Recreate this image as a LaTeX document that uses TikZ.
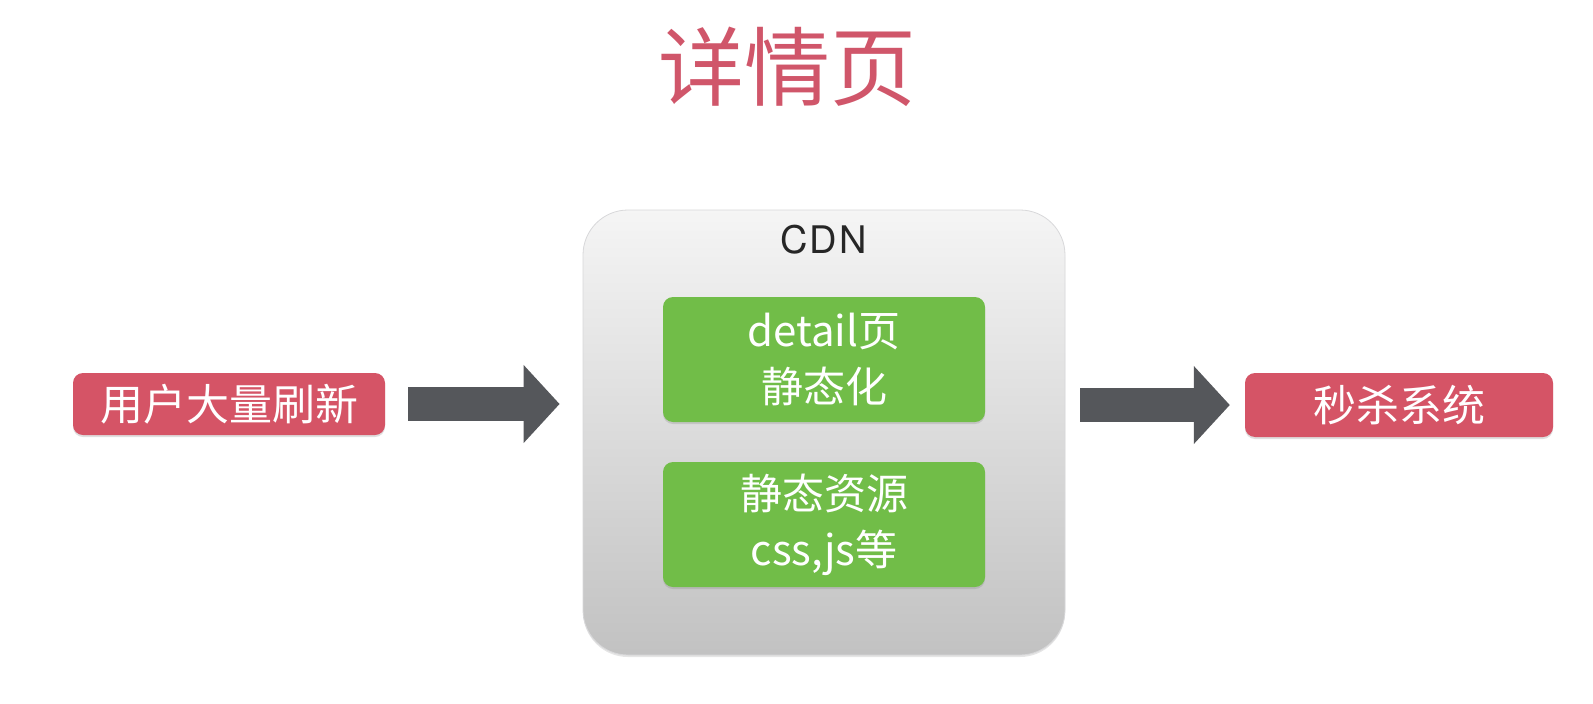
\documentclass[tikz,border=0pt]{standalone}
\usepackage{fontspec}
\setmainfont{Noto Sans CJK SC}
\newfontfamily\cdnfont{TeX Gyre Heros}
\usetikzlibrary{arrows.meta,shadows}
\definecolor{cred}{HTML}{D55466}
\definecolor{ctitle}{HTML}{D0566A}
\definecolor{cgreen}{HTML}{71BD48}
\definecolor{carrow}{HTML}{55575B}
\definecolor{cborder}{HTML}{D8D8DA}
\tikzset{
  redbox/.style={draw=none, fill=cred, rounded corners=10pt, inner sep=0pt,
    text=white, font=\fontsize{43}{50}\selectfont,
    drop shadow={opacity=0.25, shadow xshift=0pt, shadow yshift=-2pt}},
  greenbox/.style={draw=none, fill=cgreen, rounded corners=10pt, inner sep=0pt,
    minimum width=322pt, minimum height=125pt, align=center,
    text=white, font=\fontsize{42}{56}\selectfont,
    drop shadow={opacity=0.25, shadow xshift=0pt, shadow yshift=-2pt}},
  cdnbox/.style={draw=cborder, line width=0.8pt, rounded corners=45pt,
    top color=white!96!black, bottom color=black!24!white, inner sep=0pt,
    minimum width=482pt, minimum height=445pt,
    drop shadow={opacity=0.2, shadow xshift=0pt, shadow yshift=-2pt}},
  fatarrow/.style={draw=carrow, line width=34pt,
    -{Triangle[length=36pt, width=76pt]}},
}
\begin{document}
\begin{tikzpicture}[x=1pt,y=-1pt]
\path[use as bounding box, fill=white] (0,0) rectangle (1593,704);

\node[text=ctitle, font=\fontsize{86}{90}\selectfont, inner sep=0pt] (title) at (787.5,67) {详情页};

\node[cdnbox] (cdn) at (824,432.5) {};
\node[font=\cdnfont\fontsize{38}{44}\selectfont, text=black!85, inner sep=0pt] (cdnlabel) at (823.5,240) {C\hspace{2pt}D\hspace{2pt}N};

\node[greenbox] (g1) at (824,359.5) {detail页\\静态化};
\node[greenbox] (g2) at (824,524.5) {静态资源\\css,js等};

\node[redbox, minimum width=312pt, minimum height=62pt] (user) at (229,404) {用户大量刷新};
\node[redbox, minimum width=308pt, minimum height=64pt] (sys) at (1399,405) {秒杀系统};

\draw[fatarrow, shorten <=23pt, shorten >=23pt] (user.east) -- (user.east -| cdn.west);
\draw[fatarrow, shorten <=15pt, shorten >=15pt] (cdn.east |- sys.west) -- (sys.west);
\end{tikzpicture}
\end{document}
